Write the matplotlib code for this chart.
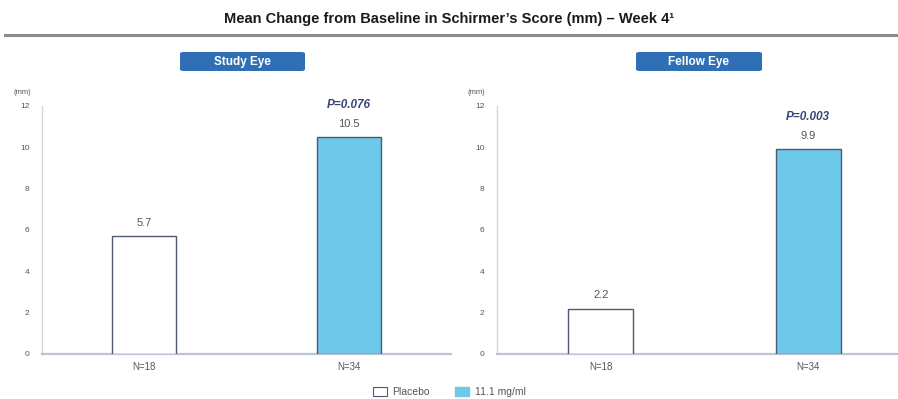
import matplotlib.pyplot as plt
from matplotlib.patches import FancyBboxPatch, Patch

plt.rcParams["font.family"] = ["Liberation Sans", "DejaVu Sans"]

# Mean change from baseline (mm) at week 4
panels = ["Study Eye", "Fellow Eye"]
group_labels = ["N=18", "N=34"]
placebo_means = [5.7, 2.2]
active_means = [10.5, 9.9]
p_values = ["P=0.076", "P=0.003"]
y_ticks = [0, 2, 4, 6, 8, 10, 12]

PLACEBO_FACE = "white"
ACTIVE_FACE = "#6ec8ea"
BAR_EDGE = "#4f5877"
AXIS_COLOR = "#bfc3d2"
TEXT_GRAY = "#555555"
P_COLOR = "#3b4678"
BUTTON_BLUE = "#2f6fb5"

W, H = 898, 399
fig = plt.figure(figsize=(W / 100, H / 100), dpi=100)

# header
fig.text(0.5, 1 - 19 / H, "Mean Change from Baseline in Schirmer\u2019s Score (mm) \u2013 Week 4\u00b9",
         ha="center", va="center", fontsize=10.5, fontweight="bold", color="#1a1a1a")
fig.add_artist(plt.Line2D([5 / W, 1], [1 - 35 / H, 1 - 35 / H], color="#8c8c8c", lw=2.2))

# axes boxes in pixels: (left, width)
axes_px = [(42, 409), (497, 415)]
bottom_px, top_px = 354, 106
button_px = [(180, 305), (636, 762)]

for i, panel in enumerate(panels):
    left, width = axes_px[i]
    ax = fig.add_axes([left / W, 1 - bottom_px / H, width / W, (bottom_px - top_px) / H])
    xs = [0.5, 1.5]
    vals = [placebo_means[i], active_means[i]]
    ax.bar(xs, vals, width=0.313, color=[PLACEBO_FACE, ACTIVE_FACE],
           edgecolor=BAR_EDGE, linewidth=1.0, zorder=3)
    for x, v in zip(xs, vals):
        ax.annotate(f"{v:.1f}", (x, v), xytext=(0, 6), textcoords="offset points",
                    ha="center", va="bottom", fontsize=8, color=TEXT_GRAY)
    ax.annotate(p_values[i], (xs[1], vals[1]), xytext=(0, 19), textcoords="offset points",
                ha="center", va="bottom", fontsize=8.5, fontweight="bold",
                fontstyle="italic", color=P_COLOR)

    ax.set_xlim(0, 2)
    ax.set_ylim(0, 12)
    ax.set_yticks(y_ticks)
    ax.set_yticklabels([str(t) for t in y_ticks])
    ax.set_xticks(xs)
    ax.set_xticklabels(group_labels)
    ax.tick_params(axis="y", length=0, pad=9, labelsize=6, labelcolor=TEXT_GRAY)
    ax.tick_params(axis="x", length=0, pad=6, labelsize=7, labelcolor=TEXT_GRAY)
    for s in ["top", "right"]:
        ax.spines[s].set_visible(False)
    ax.spines["left"].set_color("#d4d6df")
    ax.spines["left"].set_linewidth(1.0)
    ax.spines["bottom"].set_color(AXIS_COLOR)
    ax.spines["bottom"].set_linewidth(1.6)
    ax.patch.set_alpha(0)
    ax.text(-0.055, 12.5, "(mm)", transform=ax.transData, ha="right", va="bottom",
            fontsize=5.5, color=TEXT_GRAY)

    # panel heading button
    bx0, bx1 = button_px[i]
    fig.add_artist(FancyBboxPatch((bx0 / W, 1 - 71 / H), (bx1 - bx0) / W, 19 / H,
                                  boxstyle="round,pad=0,rounding_size=0.004",
                                  transform=fig.transFigure, facecolor=BUTTON_BLUE,
                                  edgecolor="none"))
    fig.text((bx0 + bx1) / 2 / W, 1 - 61.5 / H, panel, ha="center", va="center",
             fontsize=8.5, fontweight="bold", color="white")

handles = [Patch(facecolor=PLACEBO_FACE, edgecolor=BAR_EDGE, linewidth=0.8, label="Placebo"),
           Patch(facecolor=ACTIVE_FACE, edgecolor=ACTIVE_FACE, label="11.1 mg/ml")]
fig.legend(handles=handles, loc="center", bbox_to_anchor=(0.5, 1 - 392 / H), ncol=2,
           frameon=False, fontsize=7.5, handlelength=1.4, handleheight=0.9,
           columnspacing=2.4, handletextpad=0.5, labelcolor=TEXT_GRAY)

fig.savefig("out.png", dpi=100)
